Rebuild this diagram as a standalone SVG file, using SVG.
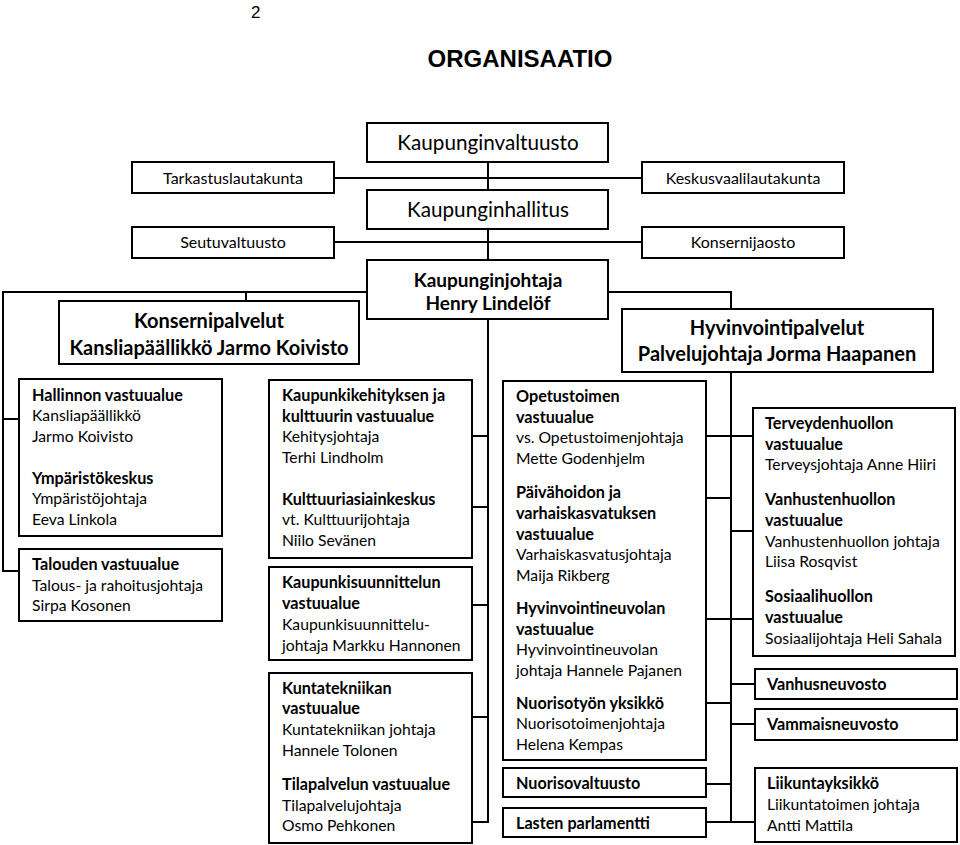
<svg xmlns="http://www.w3.org/2000/svg" width="960" height="845" viewBox="0 0 960 845">
<style>
rect.b{fill:#fff;stroke:#000;stroke-width:2}
text{font-family:Lato,"Liberation Sans",sans-serif;fill:#000}
.t{font-size:15.7px}
.tb{font-size:16.2px;font-weight:bold}
.big{font-size:20.7px;text-anchor:middle}
.mid{font-size:16px;text-anchor:middle}
.hb{font-size:19px;font-weight:bold;text-anchor:middle}
.hb2{font-size:20px;font-weight:bold;text-anchor:middle}
#connectors path{fill:none;stroke:#000;stroke-width:2}
</style>
<text x="251" y="18" style="font-family:'Liberation Sans',Arial,sans-serif;font-size:17px">2</text>
<text x="520" y="67" style="font-family:'Liberation Sans',Arial,sans-serif;font-size:24px;font-weight:bold;text-anchor:middle">ORGANISAATIO</text>
<g id="connectors">
<path d="M488,162V190M488,229V260M488,319V822H472"/>
<path d="M334,178H642M334,242H642"/>
<path d="M367,292H3V571H19M3,419H19M246,292V301"/>
<path d="M608,292H731V309M731,372V822"/>
<path d="M472,436H488M472,507H488M472,605H488M472,717H488"/>
<path d="M706,436H753M706,498H731M706,619H753M731,531H753M706,703H731M731,684H755M731,724H755M706,784H731M706,822H755"/>
</g>
<g id="kaupunginvaltuusto"><rect class="b" x="367" y="123" width="241" height="39"/><text class="big" x="488" y="150">Kaupunginvaltuusto</text></g>
<g id="tarkastuslautakunta"><rect class="b" x="132" y="162" width="202" height="31"/><text class="mid" x="233" y="184">Tarkastuslautakunta</text></g>
<g id="keskusvaalilautakunta"><rect class="b" x="642" y="162" width="202" height="31"/><text class="mid" x="743" y="184">Keskusvaalilautakunta</text></g>
<g id="kaupunginhallitus"><rect class="b" x="367" y="190" width="241" height="39"/><text class="big" x="488" y="217">Kaupunginhallitus</text></g>
<g id="seutuvaltuusto"><rect class="b" x="132" y="227" width="202" height="31"/><text class="mid" x="233" y="248">Seutuvaltuusto</text></g>
<g id="konsernijaosto"><rect class="b" x="642" y="227" width="202" height="31"/><text class="mid" x="743" y="248">Konsernijaosto</text></g>
<g id="kaupunginjohtaja"><rect class="b" x="367" y="260" width="241" height="59"/><text class="hb" x="488" y="287">Kaupunginjohtaja</text><text class="hb" x="488" y="310">Henry Lindelöf</text></g>
<g id="konsernipalvelut"><rect class="b" x="59" y="301" width="300" height="63"/><text class="hb2" x="209" y="328">Konsernipalvelut</text><text class="hb2" x="209" y="355">Kansliapäällikkö Jarmo Koivisto</text></g>
<g id="hyvinvointipalvelut"><rect class="b" x="622" y="309" width="311" height="63"/><text class="hb2" x="777" y="335">Hyvinvointipalvelut</text><text class="hb2" x="777" y="361">Palvelujohtaja Jorma Haapanen</text></g>
<g id="hallinnon"><rect class="b" x="19" y="379" width="203" height="157"/>
<text class="tb" x="32" y="401">Hallinnon vastuualue</text><text class="t" x="32" y="421">Kansliapäällikkö</text><text class="t" x="32" y="442">Jarmo Koivisto</text>
<text class="tb" x="32" y="484">Ympäristökeskus</text><text class="t" x="32" y="504">Ympäristöjohtaja</text><text class="t" x="32" y="525">Eeva Linkola</text></g>
<g id="talouden"><rect class="b" x="19" y="549" width="203" height="72"/>
<text class="tb" x="32" y="570">Talouden vastuualue</text><text class="t" x="32" y="591">Talous- ja rahoitusjohtaja</text><text class="t" x="32" y="611">Sirpa Kosonen</text></g>
<g id="kaupunkikehitys"><rect class="b" x="269" y="380" width="203" height="178"/>
<text class="tb" x="282" y="401">Kaupunkikehityksen ja</text><text class="tb" x="282" y="422">kulttuurin vastuualue</text><text class="t" x="282" y="442">Kehitysjohtaja</text><text class="t" x="282" y="463">Terhi  Lindholm</text>
<text class="tb" x="282" y="505">Kulttuuriasiainkeskus</text><text class="t" x="282" y="525">vt. Kulttuurijohtaja</text><text class="t" x="282" y="546">Niilo Sevänen</text></g>
<g id="kaupunkisuunnittelu"><rect class="b" x="269" y="567" width="203" height="93"/>
<text class="tb" x="282" y="588">Kaupunkisuunnittelun</text><text class="tb" x="282" y="609">vastuualue</text><text class="t" x="282" y="630">Kaupunkisuunnittelu-</text><text class="t" x="282" y="651">johtaja Markku  Hannonen</text></g>
<g id="kuntatekniikka"><rect class="b" x="269" y="673" width="203" height="170"/>
<text class="tb" x="282" y="694">Kuntatekniikan</text><text class="tb" x="282" y="714">vastuualue</text><text class="t" x="282" y="735">Kuntatekniikan johtaja</text><text class="t" x="282" y="756">Hannele Tolonen</text>
<text class="tb" x="282" y="790">Tilapalvelun vastuualue</text><text class="t" x="282" y="811">Tilapalvelujohtaja</text><text class="t" x="282" y="831">Osmo Pehkonen</text></g>
<g id="opetustoimi"><rect class="b" x="503" y="381" width="203" height="379"/>
<text class="tb" x="516" y="402">Opetustoimen</text><text class="tb" x="516" y="423">vastuualue</text><text class="t" x="516" y="443">vs. Opetustoimenjohtaja</text><text class="t" x="516" y="464">Mette Godenhjelm</text>
<text class="tb" x="516" y="498">Päivähoidon  ja</text><text class="tb" x="516" y="519">varhaiskasvatuksen</text><text class="tb" x="516" y="540">vastuualue</text><text class="t" x="516" y="560">Varhaiskasvatusjohtaja</text><text class="t" x="516" y="581">Maija Rikberg</text>
<text class="tb" x="516" y="614">Hyvinvointineuvolan</text><text class="tb" x="516" y="635">vastuualue</text><text class="t" x="516" y="655">Hyvinvointineuvolan</text><text class="t" x="516" y="676">johtaja Hannele Pajanen</text>
<text class="tb" x="516" y="709">Nuorisotyön yksikkö</text><text class="t" x="516" y="729">Nuorisotoimenjohtaja</text><text class="t" x="516" y="750">Helena Kempas</text></g>
<g id="nuorisovaltuusto"><rect class="b" x="503" y="768" width="203" height="29"/><text class="tb" x="516" y="789">Nuorisovaltuusto</text></g>
<g id="lastenparlamentti"><rect class="b" x="503" y="808" width="203" height="29"/><text class="tb" x="516" y="829">Lasten parlamentti</text></g>
<g id="terveydenhuolto"><rect class="b" x="753" y="408" width="202" height="248"/>
<text class="tb" x="765" y="429">Terveydenhuollon</text><text class="tb" x="765" y="450">vastuualue</text><text class="t" x="765" y="470">Terveysjohtaja Anne Hiiri</text>
<text class="tb" x="765" y="505">Vanhustenhuollon</text><text class="tb" x="765" y="526">vastuualue</text><text class="t" x="765" y="547">Vanhustenhuollon  johtaja</text><text class="t" x="765" y="567">Liisa Rosqvist</text>
<text class="tb" x="765" y="602">Sosiaalihuollon</text><text class="tb" x="765" y="623">vastuualue</text><text class="t" x="765" y="644">Sosiaalijohtaja Heli Sahala</text></g>
<g id="vanhusneuvosto"><rect class="b" x="755" y="669" width="202" height="30"/><text class="tb" x="767" y="690">Vanhusneuvosto</text></g>
<g id="vammaisneuvosto"><rect class="b" x="755" y="709" width="202" height="31"/><text class="tb" x="767" y="730">Vammaisneuvosto</text></g>
<g id="liikuntayksikko"><rect class="b" x="755" y="768" width="202" height="74"/>
<text class="tb" x="767" y="789">Liikuntayksikkö</text><text class="t" x="767" y="810">Liikuntatoimen johtaja</text><text class="t" x="767" y="831">Antti Mattila</text></g>
</svg>
